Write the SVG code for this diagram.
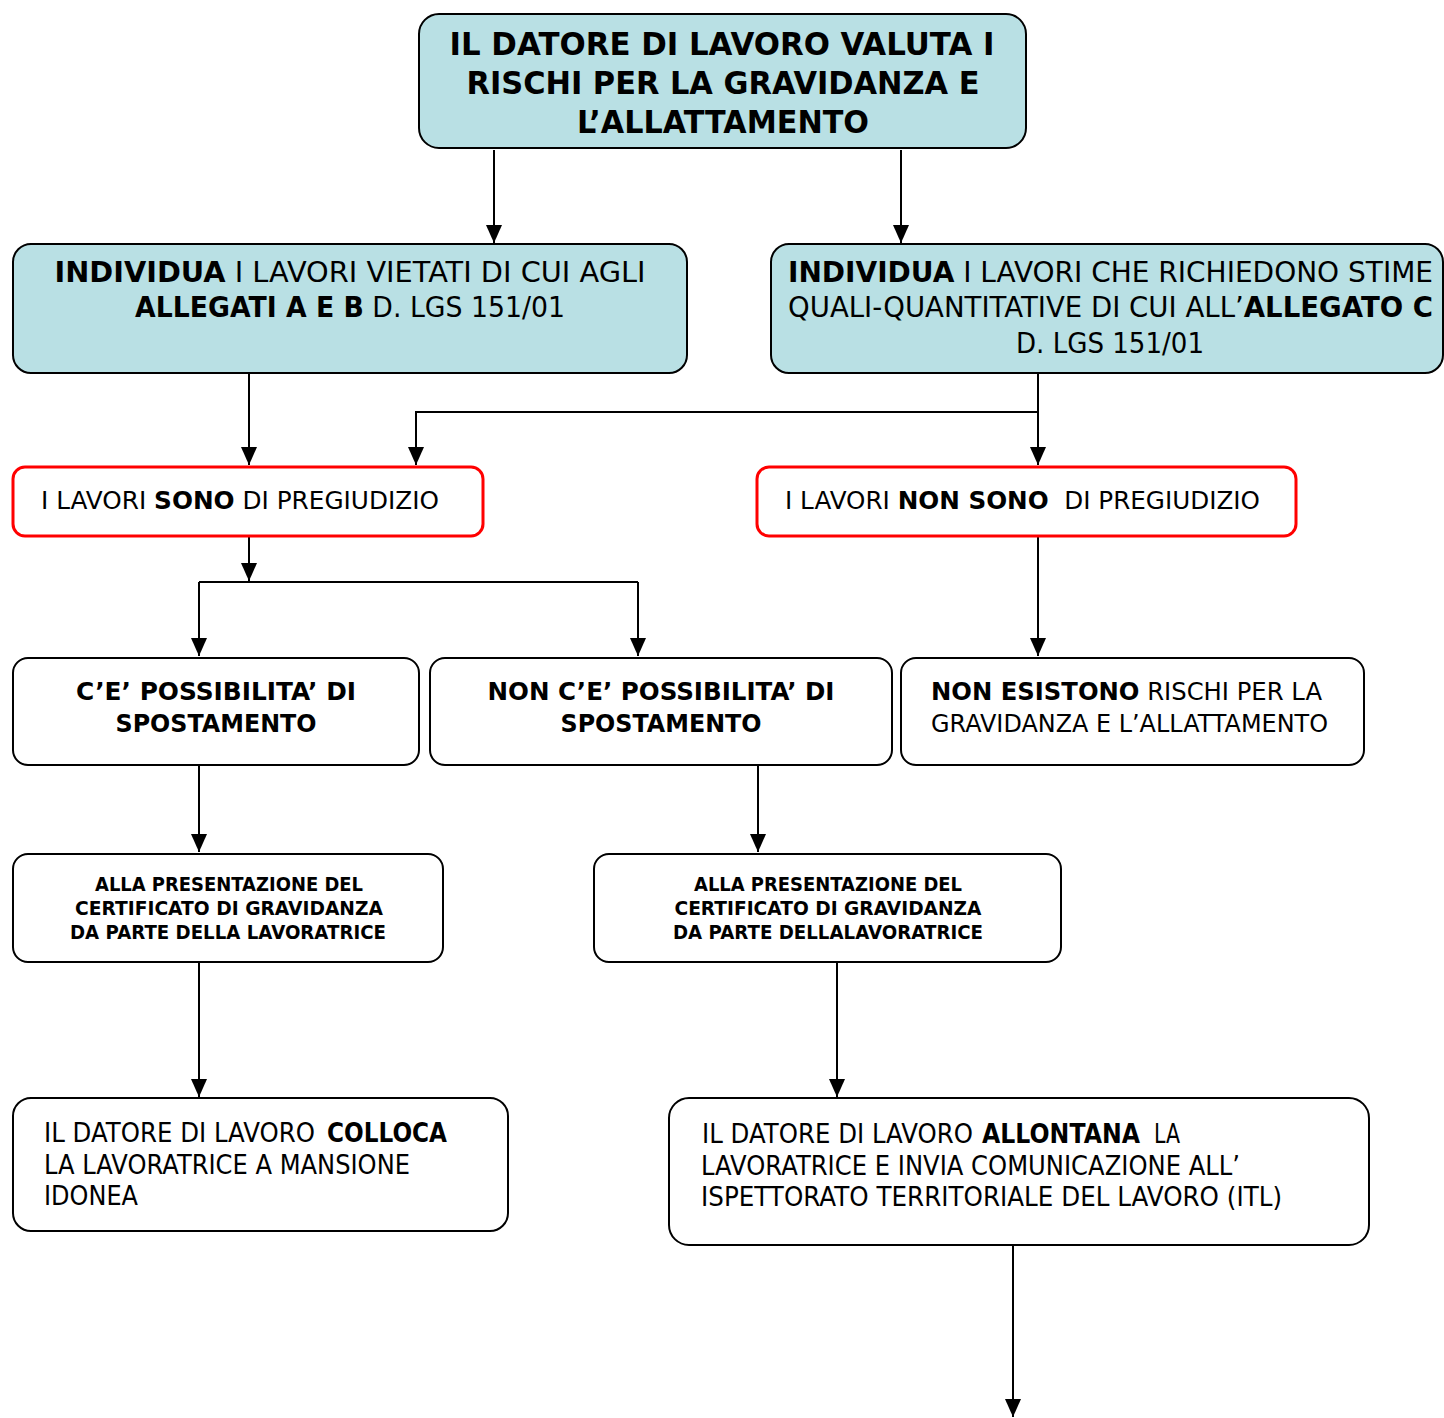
<svg xmlns="http://www.w3.org/2000/svg" width="1444" height="1418" viewBox="0 0 1444 1418">
<defs>
<marker id="ah" viewBox="0 0 18 16" refX="18" refY="8" markerWidth="18" markerHeight="16" markerUnits="userSpaceOnUse" orient="auto">
<path d="M0,0 L18,8 L0,16 Z" fill="#000"/>
</marker>
<style>
text{font-family:"DejaVu Sans","Liberation Sans",sans-serif;fill:#000}
.b{font-weight:bold}
.teal{fill:#b9e0e4;stroke:#000;stroke-width:2}
.wbox{fill:#fff;stroke:#000;stroke-width:2}
.rbox{fill:#fff;stroke:#ff0000;stroke-width:3}
.c{fill:none;stroke:#000;stroke-width:2}
.cv{fill:none;stroke:#000;stroke-width:2;marker-end:url(#ah)}
</style>
</defs>
<rect width="1444" height="1418" fill="#fff"/>
<g id="connectors">
<line class="cv" x1="494" y1="150" x2="494" y2="243"/>
<line class="cv" x1="901" y1="150" x2="901" y2="243"/>
<line class="cv" x1="249" y1="374" x2="249" y2="465"/>
<line class="cv" x1="1038" y1="374" x2="1038" y2="465"/>
<polyline class="cv" points="1038,412 416,412 416,465"/>
<line class="cv" x1="249" y1="537" x2="249" y2="581"/>
<polyline class="c" points="199,582 638,582"/>
<line class="cv" x1="199" y1="582" x2="199" y2="656"/>
<line class="cv" x1="638" y1="582" x2="638" y2="656"/>
<line class="cv" x1="1038" y1="537" x2="1038" y2="656"/>
<line class="cv" x1="199" y1="766" x2="199" y2="852"/>
<line class="cv" x1="758" y1="766" x2="758" y2="852"/>
<line class="cv" x1="199" y1="963" x2="199" y2="1097"/>
<line class="cv" x1="837" y1="963" x2="837" y2="1097"/>
<line class="cv" x1="1013" y1="1246" x2="1013" y2="1417"/>
</g>
<g id="n-top">
<rect class="teal" x="419" y="14" width="607" height="134" rx="20"/>
<text class="b" font-size="32" text-anchor="middle" x="722" y="55" textLength="545" lengthAdjust="spacingAndGlyphs">IL DATORE DI LAVORO VALUTA I</text>
<text class="b" font-size="32" text-anchor="middle" x="723" y="94" textLength="513" lengthAdjust="spacingAndGlyphs">RISCHI PER LA GRAVIDANZA E</text>
<text class="b" font-size="32" text-anchor="middle" x="723" y="133" textLength="292" lengthAdjust="spacingAndGlyphs">L’ALLATTAMENTO</text>
</g>
<g id="n-a">
<rect class="teal" x="13" y="244" width="674" height="129" rx="18"/>
<text font-size="28" text-anchor="middle" x="350" y="282" textLength="591" lengthAdjust="spacingAndGlyphs"><tspan class="b">INDIVIDUA</tspan> I LAVORI VIETATI DI CUI AGLI</text>
<text font-size="28" text-anchor="middle" x="350" y="317" textLength="430" lengthAdjust="spacingAndGlyphs"><tspan class="b">ALLEGATI A E B</tspan> D. LGS 151/01</text>
</g>
<g id="n-b">
<rect class="teal" x="771" y="244" width="672" height="129" rx="18"/>
<text font-size="28" x="788" y="282" textLength="645" lengthAdjust="spacingAndGlyphs"><tspan class="b">INDIVIDUA</tspan> I LAVORI CHE RICHIEDONO STIME</text>
<text font-size="28" x="788" y="317" textLength="645" lengthAdjust="spacingAndGlyphs">QUALI-QUANTITATIVE DI CUI ALL’<tspan class="b">ALLEGATO C</tspan></text>
<text font-size="28" text-anchor="middle" x="1110" y="353" textLength="188" lengthAdjust="spacingAndGlyphs">D. LGS 151/01</text>
</g>
<g id="n-sono">
<rect class="rbox" x="13" y="467" width="470" height="69" rx="12"/>
<text font-size="25" x="41" y="509" textLength="398" lengthAdjust="spacingAndGlyphs">I LAVORI <tspan class="b">SONO</tspan> DI PREGIUDIZIO</text>
</g>
<g id="n-nonsono">
<rect class="rbox" x="757" y="467" width="539" height="69" rx="12"/>
<text font-size="25" x="785" y="509" textLength="475" lengthAdjust="spacingAndGlyphs" xml:space="preserve">I LAVORI <tspan class="b">NON SONO</tspan>  DI PREGIUDIZIO</text>
</g>
<g id="n-c1">
<rect class="wbox" x="13" y="658" width="406" height="107" rx="15"/>
<text class="b" font-size="25" text-anchor="middle" x="216" y="700" textLength="280" lengthAdjust="spacingAndGlyphs">C’E’ POSSIBILITA’ DI</text>
<text class="b" font-size="25" text-anchor="middle" x="216" y="732" textLength="201" lengthAdjust="spacingAndGlyphs">SPOSTAMENTO</text>
</g>
<g id="n-c2">
<rect class="wbox" x="430" y="658" width="462" height="107" rx="15"/>
<text class="b" font-size="25" text-anchor="middle" x="661" y="700" textLength="347" lengthAdjust="spacingAndGlyphs">NON C’E’ POSSIBILITA’ DI</text>
<text class="b" font-size="25" text-anchor="middle" x="661" y="732" textLength="201" lengthAdjust="spacingAndGlyphs">SPOSTAMENTO</text>
</g>
<g id="n-c3">
<rect class="wbox" x="901" y="658" width="463" height="107" rx="15"/>
<text font-size="25" x="931" y="700" textLength="391" lengthAdjust="spacingAndGlyphs"><tspan class="b">NON ESISTONO</tspan> RISCHI PER LA</text>
<text font-size="25" x="931" y="732" textLength="397" lengthAdjust="spacingAndGlyphs">GRAVIDANZA E L’ALLATTAMENTO</text>
</g>
<g id="n-d1">
<rect class="wbox" x="13" y="854" width="430" height="108" rx="15"/>
<text class="b" font-size="19" text-anchor="middle" x="229" y="891" textLength="268" lengthAdjust="spacingAndGlyphs">ALLA PRESENTAZIONE DEL</text>
<text class="b" font-size="19" text-anchor="middle" x="229" y="915" textLength="308" lengthAdjust="spacingAndGlyphs">CERTIFICATO DI GRAVIDANZA</text>
<text class="b" font-size="19" text-anchor="middle" x="228" y="939" textLength="316" lengthAdjust="spacingAndGlyphs">DA PARTE DELLA LAVORATRICE</text>
</g>
<g id="n-d2">
<rect class="wbox" x="594" y="854" width="467" height="108" rx="15"/>
<text class="b" font-size="19" text-anchor="middle" x="828" y="891" textLength="268" lengthAdjust="spacingAndGlyphs">ALLA PRESENTAZIONE DEL</text>
<text class="b" font-size="19" text-anchor="middle" x="828" y="915" textLength="307" lengthAdjust="spacingAndGlyphs">CERTIFICATO DI GRAVIDANZA</text>
<text class="b" font-size="19" text-anchor="middle" x="828" y="939" textLength="310" lengthAdjust="spacingAndGlyphs">DA PARTE DELLALAVORATRICE</text>
</g>
<g id="n-e1">
<rect class="wbox" x="13" y="1098" width="495" height="133" rx="18"/>
<text font-size="26" x="44" y="1142" textLength="271" lengthAdjust="spacingAndGlyphs">IL DATORE DI LAVORO</text>
<text class="b" font-size="26" x="327" y="1142" textLength="120" lengthAdjust="spacingAndGlyphs">COLLOCA</text>
<text font-size="26" x="44" y="1174" textLength="366" lengthAdjust="spacingAndGlyphs">LA LAVORATRICE A MANSIONE</text>
<text font-size="26" x="44" y="1205" textLength="94" lengthAdjust="spacingAndGlyphs">IDONEA</text>
</g>
<g id="n-e2">
<rect class="wbox" x="669" y="1098" width="700" height="147" rx="20"/>
<text font-size="26" x="702" y="1143" textLength="271" lengthAdjust="spacingAndGlyphs">IL DATORE DI LAVORO</text>
<text class="b" font-size="26" x="982" y="1143" textLength="158" lengthAdjust="spacingAndGlyphs">ALLONTANA</text>
<text font-size="26" x="1154" y="1143" textLength="26" lengthAdjust="spacingAndGlyphs">LA</text>
<text font-size="26" x="701" y="1175" textLength="539" lengthAdjust="spacingAndGlyphs">LAVORATRICE E INVIA COMUNICAZIONE ALL’</text>
<text font-size="26" x="701" y="1206" textLength="581" lengthAdjust="spacingAndGlyphs">ISPETTORATO TERRITORIALE DEL LAVORO (ITL)</text>
</g>
</svg>
